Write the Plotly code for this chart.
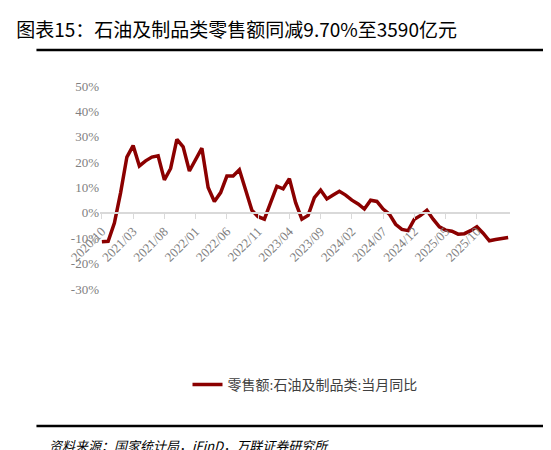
import pandas as pd
import plotly.graph_objects as go

# 零售额：石油及制品类 当月同比（%）
months = list(pd.period_range("2020-10", periods=66, freq="M").strftime("%Y/%m"))
yoy = [-11.4, -11.2, -4, 8, 22, 26.5, 18.5, 20.5, 22, 22.5, 13, 17.5, 29, 26, 16.5, 21,
       25.5, 10, 4.5, 8, 14.5, 14.5, 17, 9, 1, -1.5, -2.5, 4, 10.5, 9.5, 13.5, 4, -2.5,
       -1, 6, 9, 5.5, 7, 8.5, 7, 5, 3.5, 1.5, 5, 4.5, 1.5, -0.5, -4.5, -6.5, -7, -2.5,
       -1, 1, -2.5, -5.5, -6.8, -7.2, -8.4, -8.2, -7, -5.5, -8, -11, -10.5, -10, -9.7]
tick_labels = months[::5][:13]
y_ticks = [-30, -20, -10, 0, 10, 20, 30, 40, 50]
y_text = [f"{v}%" for v in y_ticks]

serif = "Liberation Serif, Noto Sans CJK SC"
plot_h = 450 - 78 - 169


def py(px):
    # 像素 y 转 paper 坐标
    return (450 - 169 - px) / plot_h


fig = go.Figure()
fig.add_trace(go.Scatter(
    x=months, y=yoy, mode="lines",
    name="零售额:石油及制品类:当月同比",
    line=dict(color="#8B0000", width=3.5),
))

fig.update_layout(
    width=551, height=450,
    margin=dict(l=92, r=49, t=78, b=169, autoexpand=False),
    plot_bgcolor="white", paper_bgcolor="white",
    font=dict(family=serif, size=13, color="#808080"),
    showlegend=True,
    legend=dict(orientation="h", x=0.5, xanchor="center", y=py(377), yanchor="middle",
                font=dict(size=14, color="#404040")),
    title=dict(text="图表15：石油及制品类零售额同减9.70%至3590亿元",
               x=0.015, xanchor="left", y=1 - 22 / 450, yanchor="middle",
               font=dict(family="Noto Sans CJK SC", size=19, color="black")),
    annotations=[dict(text="<i>资料来源：国家统计局，iFinD，万联证券研究所</i>",
                      xref="paper", yref="paper", x=-0.13, xanchor="left",
                      y=py(437), yanchor="middle", showarrow=False,
                      font=dict(family="Noto Sans CJK SC", size=13, color="black"))],
    shapes=[
        dict(type="line", xref="paper", yref="paper", x0=-0.155, x1=1.115,
             y0=py(42), y1=py(42), line=dict(color="black", width=2.5)),
        dict(type="line", xref="paper", yref="paper", x0=-0.155, x1=1.115,
             y0=py(418), y1=py(418), line=dict(color="black", width=2.5)),
    ],
)
fig.update_xaxes(
    type="category", tickmode="array", tickvals=tick_labels, ticktext=tick_labels,
    tickangle=-45, showgrid=False, showline=True, linecolor="#D9D9D9", linewidth=1.5,
    ticks="outside", tickcolor="#D9D9D9", ticklen=5, anchor="free", position=py(205),
    zeroline=False, range=[-0.3, 65.3], automargin=False,
)
fig.update_yaxes(
    range=[-30, 50], tickmode="array", tickvals=y_ticks, ticktext=y_text, showgrid=False,
    zeroline=False, showline=False, automargin=False,
)
fig.write_html("out.html")
